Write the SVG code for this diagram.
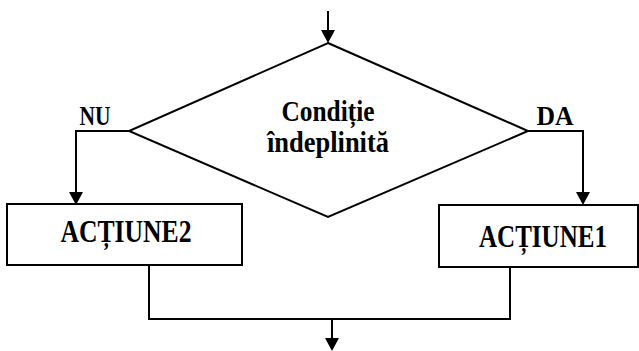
<svg xmlns="http://www.w3.org/2000/svg" width="639" height="351" viewBox="0 0 639 351">
<style>
.ln{fill:none;stroke:#000;stroke-width:2}
.sh{fill:#fff;stroke:#000;stroke-width:2}
.t{font-family:"Liberation Serif","Times New Roman",serif;font-weight:bold;fill:#000;text-anchor:middle}
</style>
<rect width="639" height="351" fill="#fff"/>
<g id="connectors">
<line class="ln" x1="328" y1="11" x2="328" y2="30"/>
<path d="M321,30 L335,30 L328,43 Z" fill="#000"/>
<polyline class="ln" points="129,131 76,131 76,192"/>
<path d="M69,192 L83,192 L76,205 Z" fill="#000"/>
<polyline class="ln" points="528,131 583,131 583,192"/>
<path d="M576,192 L590,192 L583,205 Z" fill="#000"/>
<polyline class="ln" points="149,265 149,319 510,319 510,267"/>
<line class="ln" x1="332" y1="319" x2="332" y2="339"/>
<path d="M325,338 L339,338 L332,351 Z" fill="#000"/>
</g>
<g id="decision">
<polygon class="sh" points="328,43 528,131 328,217 129,131"/>
<text class="t" x="328" y="121" font-size="30" textLength="93" lengthAdjust="spacingAndGlyphs">Condiție</text>
<text class="t" x="328" y="152" font-size="30" textLength="122" lengthAdjust="spacingAndGlyphs">îndeplinită</text>
</g>
<g id="label-nu">
<text class="t" x="95" y="125" font-size="28" textLength="31" lengthAdjust="spacingAndGlyphs">NU</text>
</g>
<g id="label-da">
<text class="t" x="555" y="125" font-size="28" textLength="37" lengthAdjust="spacingAndGlyphs">DA</text>
</g>
<g id="actiune2">
<rect class="sh" x="7" y="204" width="235" height="61"/>
<text class="t" x="126" y="242" font-size="31" textLength="131" lengthAdjust="spacingAndGlyphs">ACȚIUNE2</text>
</g>
<g id="actiune1">
<rect class="sh" x="439" y="205" width="199" height="62"/>
<text class="t" x="543" y="247" font-size="31" textLength="128" lengthAdjust="spacingAndGlyphs">ACȚIUNE1</text>
</g>
</svg>
